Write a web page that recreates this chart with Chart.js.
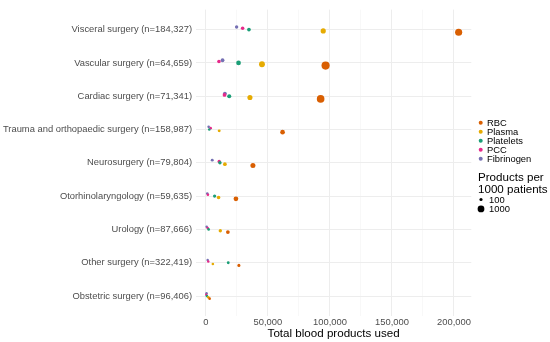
<!DOCTYPE html>
<html>
<head>
<meta charset="utf-8">
<script src="https://cdn.jsdelivr.net/npm/chart.js@4"></script>
<style>
  body { margin: 0; background: #fff; }
  canvas { display: block; }
</style>
</head>
<body>
<canvas id="chart" width="550" height="342"></canvas>
<script>
const categories = ['Visceral surgery', 'Vascular surgery', 'Cardiac surgery', 'Trauma and orthopaedic surgery',
    'Neurosurgery', 'Otorhinolaryngology', 'Urology', 'Other surgery', 'Obstetric surgery'];
const patients = [184327, 64659, 71341, 158987, 79804, 59635, 87666, 322419, 96406];

// total products used per specialty
const rbc = [203800, 96500, 92500, 61800, 37900, 24200, 17700, 26600, 3000];
const plasma = [94600, 45200, 35500, 10700, 15300, 10200, 11600, 5600, 1900];
const platelets = [34700, 26300, 18800, 2700, 11300, 7000, 2200, 18000, 800];
const pcc = [29600, 10500, 15000, 3800, 10700, 1600, 1400, 1900, 300];
const fibrinogen = [24750, 13400, 15300, 2200, 5100, 1100, 600, 1400, 500];

const xTicks = [0, 50000, 100000, 150000, 200000];
const sizeBreaks = [100, 1000];

const seriesNames = ['RBC', 'Plasma', 'Platelets', 'PCC', 'Fibrinogen'];
const seriesValues = [rbc, plasma, platelets, pcc, fibrinogen];
const seriesColors = ['#D95F02', '#E6AB02', '#1B9E77', '#E7298A', '#7570B3'];
const dodge = [0.08, 0.04, 0, -0.04, -0.08];

const fmt = v => v.toLocaleString('en-US');
const rowLabels = categories.map((c, i) => `${c} (n=${fmt(patients[i])})`);

// point radius from products per 1000 patients (area grows linearly)
function sizeFor(per1000) {
    return Math.sqrt(1.5 + 0.0101 * per1000);
}

const datasets = seriesNames.map((name, s) => ({
    label: name,
    data: seriesValues[s].map((v, i) => ({ x: v, y: i + dodge[s], per: v / patients[i] * 1000 })),
    backgroundColor: seriesColors[s],
    borderWidth: 0,
    pointRadius: ctx => sizeFor(ctx.raw ? ctx.raw.per : 100),
    pointHoverRadius: ctx => sizeFor(ctx.raw ? ctx.raw.per : 100)
}));

const legendPlugin = {
    id: 'sideLegend',
    afterDraw(chart) {
        const c = chart.ctx;
        c.save();
        c.textBaseline = 'middle';
        c.textAlign = 'left';
        c.fillStyle = '#000';
        c.font = '9.4px "Liberation Sans", Arial, sans-serif';
        seriesNames.forEach((name, i) => {
            const y = 122.7 + i * 9;
            c.beginPath();
            c.fillStyle = seriesColors[i];
            c.arc(480.7, y, 2, 0, Math.PI * 2);
            c.fill();
            c.fillStyle = '#000';
            c.fillText(name, 487, y + 0.5);
        });
        c.font = '11.6px "Liberation Sans", Arial, sans-serif';
        c.fillText('Products per', 478, 177.5);
        c.fillText('1000 patients', 478, 189.5);
        c.font = '9.4px "Liberation Sans", Arial, sans-serif';
        sizeBreaks.forEach((b, i) => {
            const y = 199.5 + i * 9.4;
            c.beginPath();
            c.arc(481, y, sizeFor(b), 0, Math.PI * 2);
            c.fill();
            c.fillText(String(b), 489, y + 0.5);
        });
        c.restore();
    }
};

new Chart(document.getElementById('chart'), {
    type: 'scatter',
    data: { datasets },
    plugins: [legendPlugin],
    options: {
        responsive: false,
        animation: false,
        events: [],
        layout: { padding: { left: 0, right: 78.7, top: 4, bottom: 0 } },
        plugins: { legend: { display: false }, tooltip: { enabled: false } },
        scales: {
            x: {
                type: 'linear',
                min: -8000,
                max: 214000,
                afterBuildTicks: scale => {
                    const t = [];
                    for (let v = 0; v <= 200000; v += 25000) t.push({ value: v });
                    scale.ticks = t;
                },
                afterFit: scale => { scale.height = 26; },
                border: { display: false },
                grid: {
                    drawTicks: false,
                    color: ctx => xTicks.includes(ctx.tick.value) ? '#EDEDED' : '#F5F5F5',
                    lineWidth: ctx => xTicks.includes(ctx.tick.value) ? 1 : 0.7
                },
                ticks: {
                    autoSkip: false,
                    maxRotation: 0,
                    padding: 1,
                    color: '#4D4D4D',
                    font: { family: '"Liberation Sans", Arial, sans-serif', size: 9.4 },
                    callback: v => xTicks.includes(v) ? fmt(v) : ''
                },
                title: {
                    display: true,
                    text: 'Total blood products used',
                    color: '#000',
                    font: { family: '"Liberation Sans", Arial, sans-serif', size: 11.6 },
                    padding: { top: 0, bottom: 1.5 }
                }
            },
            y: {
                type: 'linear',
                reverse: true,
                min: -0.6,
                max: categories.length - 0.4,
                afterBuildTicks: scale => {
                    scale.ticks = categories.map((c, i) => ({ value: i }));
                },
                afterFit: scale => { scale.width = 196; },
                border: { display: false },
                grid: { drawTicks: false, color: '#EDEDED', lineWidth: 1 },
                ticks: {
                    autoSkip: false,
                    padding: 4,
                    color: '#4D4D4D',
                    font: { family: '"Liberation Sans", Arial, sans-serif', size: 9.4 },
                    callback: v => rowLabels[v]
                }
            }
        }
    }
});
</script>
</body>
</html>
